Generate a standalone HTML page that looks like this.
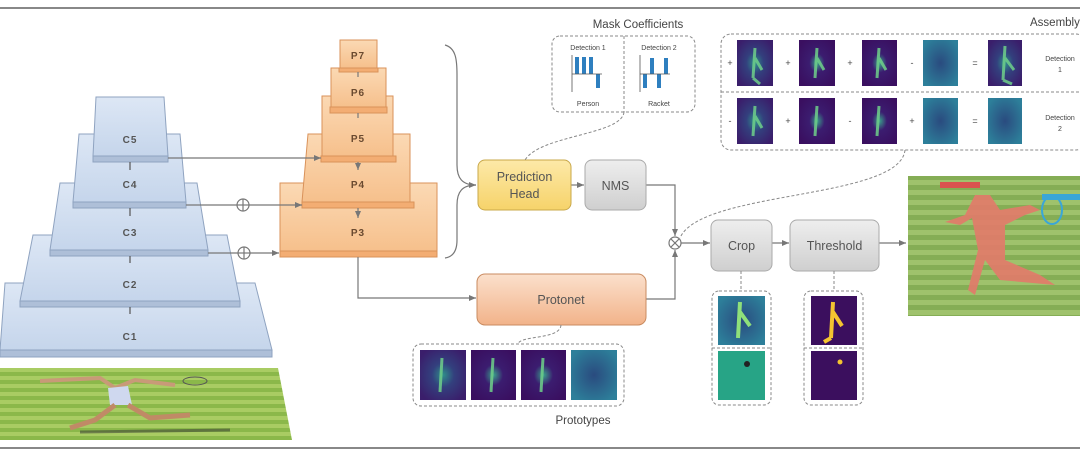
<!DOCTYPE html>
<html><head><meta charset="utf-8"><style>
html,body{margin:0;padding:0;background:#fff;}
svg{display:block;font-family:"Liberation Sans",sans-serif;}
</style></head><body>
<svg width="1080" height="458" viewBox="0 0 1080 458" xmlns="http://www.w3.org/2000/svg">
<defs>
<linearGradient id="blue" x1="0" y1="0" x2="0" y2="1"><stop offset="0" stop-color="#dde7f5"/><stop offset="1" stop-color="#c5d5eb"/></linearGradient>
<linearGradient id="org" x1="0" y1="0" x2="0" y2="1"><stop offset="0" stop-color="#fbd9b4"/><stop offset="1" stop-color="#f6c08c"/></linearGradient>
<linearGradient id="yel" x1="0" y1="0" x2="0" y2="1"><stop offset="0" stop-color="#fde9a8"/><stop offset="1" stop-color="#f6d36a"/></linearGradient>
<linearGradient id="gry" x1="0" y1="0" x2="0" y2="1"><stop offset="0" stop-color="#eeeeee"/><stop offset="1" stop-color="#cfcfcf"/></linearGradient>
<linearGradient id="pro" x1="0" y1="0" x2="0" y2="1"><stop offset="0" stop-color="#fbe0cc"/><stop offset="1" stop-color="#f2b38a"/></linearGradient>
<radialGradient id="tileA" cx="0.5" cy="0.5" r="0.6"><stop offset="0" stop-color="#2f8f8a"/><stop offset="0.4" stop-color="#33407e"/><stop offset="1" stop-color="#3a1e6b"/></radialGradient>
<radialGradient id="tileB" cx="0.5" cy="0.5" r="0.6"><stop offset="0" stop-color="#3aa08a"/><stop offset="0.35" stop-color="#3b1d70"/><stop offset="1" stop-color="#3a0f60"/></radialGradient>
<radialGradient id="tileC" cx="0.5" cy="0.5" r="0.6"><stop offset="0" stop-color="#2a4b7f"/><stop offset="1" stop-color="#2d7f9a"/></radialGradient>
<pattern id="grass" width="12" height="8" patternUnits="userSpaceOnUse"><rect width="12" height="8" fill="#8bb84a"/><rect width="12" height="4" fill="#a9cc63"/></pattern>
<pattern id="grass2" width="12" height="10" patternUnits="userSpaceOnUse"><rect width="12" height="10" fill="#85ad55"/><rect width="12" height="5" fill="#9fc26c"/></pattern>
<marker id="ar" markerWidth="8" markerHeight="8" refX="7" refY="4" orient="auto" markerUnits="userSpaceOnUse"><path d="M0,1 L7,4 L0,7z" fill="#777"/></marker>
</defs>

<line x1="0" y1="8" x2="1080" y2="8" stroke="#888" stroke-width="2"/>
<line x1="0" y1="448" x2="1080" y2="448" stroke="#888" stroke-width="2"/>

<polygon points="0,368 278,368 292,440 0,440" fill="url(#grass)"/>
<path d="M40,381 L100,378 L115,388 L135,380 L175,385" stroke="#c89a78" stroke-width="4" fill="none"/>
<path d="M108,388 L128,386 L132,405 L110,405z" fill="#cfd8ef"/>
<path d="M115,405 L95,420 L70,428 M128,405 L150,418 L190,415" stroke="#c08a66" stroke-width="5" fill="none"/>
<ellipse cx="195" cy="381" rx="12" ry="4" fill="none" stroke="#555"/>
<path d="M80,432 L230,430" stroke="#333" stroke-width="3" opacity=".5"/>

<g stroke="#8fa3c0" stroke-width="1">
<polygon points="5,283 255,283 272,350 0,350" fill="url(#blue)"/><rect x="0" y="350" width="272" height="7" fill="#aebfd8"/>
<polygon points="33,235 227,235 240,301 20,301" fill="url(#blue)"/><rect x="20" y="301" width="220" height="6" fill="#aebfd8"/>
<polygon points="60,183 197,183 208,250 50,250" fill="url(#blue)"/><rect x="50" y="250" width="158" height="6" fill="#aebfd8"/>
<polygon points="79,134 180,134 186,202 73,202" fill="url(#blue)"/><rect x="73" y="202" width="113" height="6" fill="#aebfd8"/>
<polygon points="96,97 164,97 168,156 93,156" fill="url(#blue)"/><rect x="93" y="156" width="75" height="6" fill="#aebfd8"/>
</g>
<g stroke="#555" stroke-width="1.2"><line x1="130" y1="162" x2="130" y2="170"/><line x1="130" y1="208" x2="130" y2="216"/><line x1="130" y1="256" x2="130" y2="263"/><line x1="130" y1="307" x2="130" y2="314"/></g>
<g font-size="10" font-weight="bold" fill="#555" text-anchor="middle" letter-spacing="1">
<text x="130" y="143">C5</text><text x="130" y="188">C4</text><text x="130" y="236">C3</text><text x="130" y="288">C2</text><text x="130" y="340">C1</text></g>

<g stroke="#d9925a" stroke-width="1">
<polygon points="280,183 437,183 437,251 280,251" fill="url(#org)"/><rect x="280" y="251" width="157" height="6" fill="#f3ad73"/>
<polygon points="308,134 410,134 410,202 302,202" fill="url(#org)"/><rect x="302" y="202" width="112" height="6" fill="#f3ad73"/>
<polygon points="322,96 393,96 393,156 322,156" fill="url(#org)"/><rect x="321" y="156" width="75" height="6" fill="#f3ad73"/>
<polygon points="331,68 386,68 386,107 331,107" fill="url(#org)"/><rect x="330" y="107" width="57" height="6" fill="#f3ad73"/>
<polygon points="340,40 377,40 377,68 340,68" fill="url(#org)"/><rect x="339" y="68" width="39" height="4" fill="#f3ad73"/>
</g>
<g font-size="10" font-weight="bold" fill="#6a4a30" text-anchor="middle" letter-spacing="1">
<text x="358" y="59">P7</text><text x="358" y="96">P6</text><text x="358" y="142">P5</text><text x="358" y="188">P4</text><text x="358" y="236">P3</text></g>
<g stroke="#777" stroke-width="1.2" fill="none">
<line x1="358" y1="113" x2="358" y2="118"/><line x1="358" y1="72" x2="358" y2="77"/>
<line x1="358" y1="162" x2="358" y2="170" marker-end="url(#ar)"/>
<line x1="358" y1="208" x2="358" y2="218" marker-end="url(#ar)"/>
<line x1="168" y1="158" x2="321" y2="158" marker-end="url(#ar)"/>
<line x1="186" y1="205" x2="237" y2="205"/><circle cx="243" cy="205" r="6"/><line x1="237" y1="205" x2="249" y2="205"/><line x1="243" y1="199" x2="243" y2="211"/><line x1="249" y1="205" x2="302" y2="205" marker-end="url(#ar)"/>
<line x1="208" y1="253" x2="238" y2="253"/><circle cx="244" cy="253" r="6"/><line x1="238" y1="253" x2="250" y2="253"/><line x1="244" y1="247" x2="244" y2="259"/><line x1="250" y1="253" x2="279" y2="253" marker-end="url(#ar)"/>
<polyline points="358,257 358,298 476,298" marker-end="url(#ar)"/>
<path d="M445,45 C456,48 457,60 457,75 L457,165 C457,178 462,185 476,185" marker-end="url(#ar)"/>
<path d="M476,185 C462,185 457,192 457,205 L457,240 C457,252 452,257 445,258"/>
<polyline points="646,185 675,185 675,236" marker-end="url(#ar)"/>
<polyline points="646,299 675,299 675,250" marker-end="url(#ar)"/>
<line x1="571" y1="185" x2="584" y2="185" marker-end="url(#ar)"/>
<circle cx="675" cy="243" r="6"/><line x1="671" y1="239" x2="679" y2="247"/><line x1="679" y1="239" x2="671" y2="247"/>
<line x1="681" y1="243" x2="710" y2="243" marker-end="url(#ar)"/>
<line x1="772" y1="243" x2="789" y2="243" marker-end="url(#ar)"/>
<line x1="879" y1="243" x2="906" y2="243" marker-end="url(#ar)"/>
</g>

<rect x="478" y="160" width="93" height="50" rx="7" fill="url(#yel)" stroke="#c9a84a"/>
<text x="524.5" y="181" font-size="12.5" fill="#555" text-anchor="middle">Prediction</text>
<text x="524.5" y="198" font-size="12.5" fill="#555" text-anchor="middle">Head</text>
<rect x="585" y="160" width="61" height="50" rx="7" fill="url(#gry)" stroke="#aaa"/>
<text x="615.5" y="190" font-size="12.5" fill="#555" text-anchor="middle">NMS</text>
<rect x="477" y="274" width="169" height="51" rx="8" fill="url(#pro)" stroke="#c98b60"/>
<text x="561" y="304" font-size="12.5" fill="#555" text-anchor="middle">Protonet</text>
<rect x="711" y="220" width="61" height="51" rx="7" fill="url(#gry)" stroke="#aaa"/>
<text x="741.5" y="250" font-size="12.5" fill="#555" text-anchor="middle">Crop</text>
<rect x="790" y="220" width="89" height="51" rx="7" fill="url(#gry)" stroke="#aaa"/>
<text x="834.5" y="250" font-size="12.5" fill="#555" text-anchor="middle">Threshold</text>

<text x="638" y="28" font-size="11.5" fill="#444" text-anchor="middle">Mask Coefficients</text>
<g stroke="#888" stroke-dasharray="3,2" fill="none">
<rect x="552" y="36" width="143" height="76" rx="8"/><line x1="624" y1="36" x2="624" y2="112"/>
<path d="M624,112 C622,135 540,135 525,160"/>
<rect x="721" y="34" width="365" height="116" rx="10"/><line x1="721" y1="92" x2="1080" y2="92"/>
<path d="M905,150 C900,200 700,190 680,238"/>
<rect x="413" y="344" width="211" height="62" rx="8"/>
<path d="M561,325 C560,340 520,335 518,344"/>
<rect x="712" y="291" width="59" height="114" rx="7"/><line x1="712" y1="348" x2="771" y2="348"/><line x1="741" y1="271" x2="741" y2="291"/>
<rect x="804" y="291" width="59" height="114" rx="7"/><line x1="804" y1="348" x2="863" y2="348"/><line x1="834" y1="271" x2="834" y2="291"/>
</g>
<g font-size="7" fill="#444" text-anchor="middle">
<text x="588" y="50">Detection 1</text><text x="659" y="50">Detection 2</text>
<text x="588" y="106">Person</text><text x="659" y="106">Racket</text>
<text x="1060" y="61">Detection</text><text x="1060" y="72">1</text>
<text x="1060" y="120">Detection</text><text x="1060" y="131">2</text>
</g>
<g fill="#2e7fbf">
<rect x="575" y="57" width="4" height="17"/><rect x="582" y="57" width="4" height="17"/><rect x="589" y="57" width="4" height="17"/><rect x="596" y="74" width="4" height="14"/>
<rect x="643" y="74" width="4" height="14"/><rect x="650" y="58" width="4" height="16"/><rect x="657" y="74" width="4" height="14"/><rect x="664" y="58" width="4" height="16"/>
</g>
<g stroke="#555" stroke-width=".8"><line x1="572" y1="55" x2="572" y2="92"/><line x1="572" y1="74" x2="602" y2="74"/><line x1="640" y1="55" x2="640" y2="92"/><line x1="640" y1="74" x2="670" y2="74"/></g>
<text x="1030" y="26" font-size="11.5" fill="#444">Assembly</text>

<g>
<rect x="737" y="40" width="36" height="46" fill="url(#tileA)"/><rect x="799" y="40" width="36" height="46" fill="url(#tileB)"/><rect x="862" y="40" width="35" height="46" fill="url(#tileB)"/><rect x="923" y="40" width="35" height="46" fill="url(#tileC)"/><rect x="988" y="40" width="34" height="46" fill="url(#tileA)"/>
<rect x="737" y="98" width="36" height="46" fill="url(#tileA)"/><rect x="799" y="98" width="36" height="46" fill="url(#tileB)"/><rect x="862" y="98" width="35" height="46" fill="url(#tileB)"/><rect x="923" y="98" width="35" height="46" fill="url(#tileC)"/><rect x="988" y="98" width="34" height="46" fill="url(#tileC)"/>
</g>
<g stroke="#6fd08a" stroke-width="3" fill="none" opacity=".85">
<path d="M755,48 L753,78 M755,58 L762,70 M753,78 L760,84"/><path d="M817,48 L815,78 M817,58 L824,70"/><path d="M879,48 L877,78 M879,58 L886,70"/><path d="M1005,46 L1003,80 M1005,58 L1014,70 M1003,80 L1012,84"/>
<path d="M755,106 L753,136 M755,116 L762,128"/><path d="M817,106 L815,136"/><path d="M879,106 L877,136"/>
</g>
<g font-size="9" fill="#444" text-anchor="middle"><text x="730" y="66">+</text><text x="788" y="66">+</text><text x="850" y="66">+</text><text x="912" y="66">-</text><text x="975" y="66">=</text>
<text x="730" y="124">-</text><text x="788" y="124">+</text><text x="850" y="124">-</text><text x="912" y="124">+</text><text x="975" y="124">=</text></g>

<rect x="420" y="350" width="46" height="50" fill="url(#tileA)"/><rect x="471" y="350" width="45" height="50" fill="url(#tileB)"/><rect x="521" y="350" width="45" height="50" fill="url(#tileB)"/><rect x="571" y="350" width="46" height="50" fill="url(#tileC)"/>
<g stroke="#6fd08a" stroke-width="3" fill="none" opacity=".85"><path d="M442,358 L440,392"/><path d="M493,358 L491,392"/><path d="M543,358 L541,392"/></g>
<text x="583" y="424" font-size="11.5" fill="#444" text-anchor="middle">Prototypes</text>

<rect x="718" y="296" width="47" height="49" fill="url(#tileC)"/><path d="M740,302 L738,338 M740,312 L750,326" stroke="#8fe07a" stroke-width="4" fill="none"/>
<rect x="718" y="351" width="47" height="49" fill="#27a486"/><circle cx="747" cy="364" r="3" fill="#222"/>
<rect x="811" y="296" width="46" height="49" fill="#3b0f5e"/><path d="M833,302 L831,338 M833,312 L842,326 M831,338 L824,342" stroke="#f4c430" stroke-width="4" fill="none"/>
<rect x="811" y="351" width="46" height="49" fill="#3b0f5e"/><circle cx="840" cy="362" r="2.5" fill="#f4c430"/>

<rect x="908" y="176" width="172" height="140" fill="url(#grass2)"/>
<path d="M975,195 L965,215 L945,222 L960,225 L972,218 L978,250 L968,290 L975,295 L985,260 L1000,280 L1055,285 L1040,275 L1005,260 L1005,225 L1025,215 L1040,210 L1030,205 L1000,210 L990,195 Z" fill="#e27a6a" opacity=".9"/>
<ellipse cx="1052" cy="210" rx="10" ry="14" fill="none" stroke="#3aa6d8" stroke-width="2"/>
<rect x="940" y="182" width="40" height="6" fill="#d9534f"/><rect x="1042" y="194" width="38" height="6" fill="#3aa6d8"/>
</svg>
</body></html>
